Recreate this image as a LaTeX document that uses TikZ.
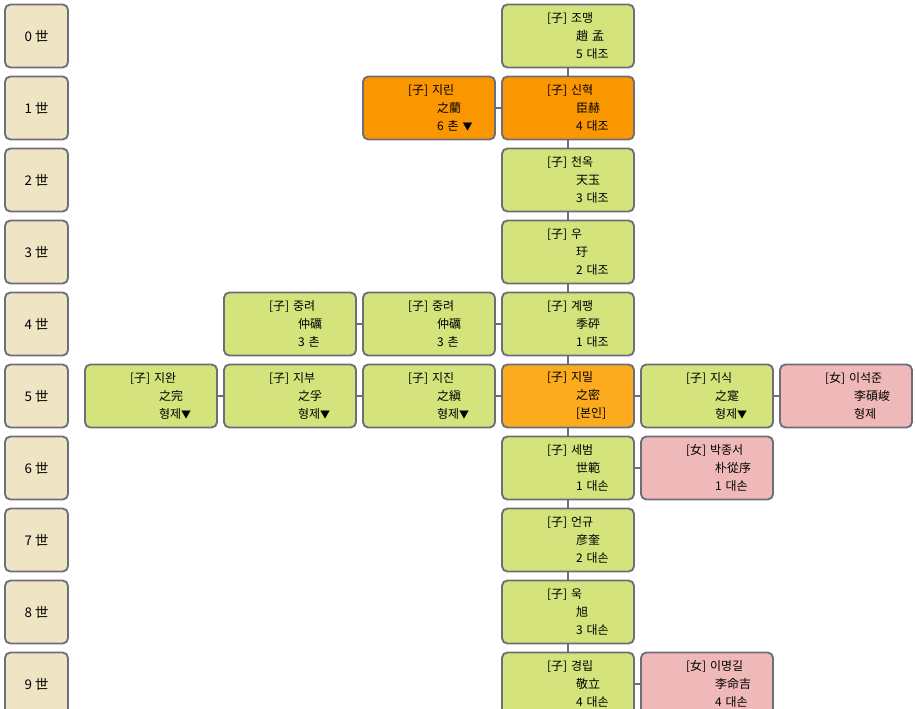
\documentclass[tikz,border=0pt]{standalone}
\usepackage{fontspec}
\setmainfont{Noto Sans CJK KR}
\definecolor{leaf}{HTML}{D4E37B}
\definecolor{rust}{HTML}{FA9600}
\definecolor{self}{HTML}{FCAA1E}
\definecolor{rose}{HTML}{F0B9B9}
\definecolor{sand}{HTML}{EFE4C3}
\definecolor{frame}{HTML}{6E6E78}
\newcommand{\ptext}[3]{\hspace*{33.75pt}#1\\\hspace*{55.5pt}#2\\\hspace*{55.5pt}#3}
\newcommand{\more}{{\fontsize{7.5}{7.5}\selectfont ▼}}

\begin{document}
\begin{tikzpicture}[x=0.75pt, y=-0.75pt,
    box/.style={draw=frame, line width=1.4pt, rounded corners=4pt,
        minimum height=47.25pt, inner sep=0pt,
        font=\fontsize{9}{13.5}\selectfont},
    person/.style={box, text width=99pt, align=left},
    gen/.style={box, fill=sand, minimum width=47.25pt, align=center,
        font=\fontsize{10}{12}\selectfont},
    wire/.style={draw=frame, line width=1.4pt}]
                % Frame and generation column:
                \clip (0, 0) rectangle (916, 709);
                \fill[white] (0, 0) rectangle (916, 709);
                \foreach \g in {0,...,9}
                    \node[gen](G\g) at (36.5, 36+72*\g){\g~世};
                % Main line:
                \node[person, fill=leaf](jomaeng) at (568, 36){\ptext{[子] 조맹}{趙 孟}{5 대조}};
                \node[person, fill=rust](sinhyeok) at (568, 108){\ptext{[子] 신혁}{臣赫}{4 대조}};
                \node[person, fill=leaf](cheonok) at (568, 180){\ptext{[子] 천옥}{天玉}{3 대조}};
                \node[person, fill=leaf](u) at (568, 252){\ptext{[子] 우}{玗}{2 대조}};
                \node[person, fill=leaf](gyepaeng) at (568, 324){\ptext{[子] 계팽}{季砰}{1 대조}};
                \node[person, fill=self](jimil) at (568, 396){\ptext{[子] 지밀}{之密}{[본인]}};
                \node[person, fill=leaf](sebeom) at (568, 468){\ptext{[子] 세범}{世範}{1 대손}};
                \node[person, fill=leaf](eongyu) at (568, 540){\ptext{[子] 언규}{彦奎}{2 대손}};
                \node[person, fill=leaf](uk) at (568, 612){\ptext{[子] 욱}{旭}{3 대손}};
                \node[person, fill=leaf](gyeongrip) at (568, 684){\ptext{[子] 경립}{敬立}{4 대손}};
                % Side boxes:
                \node[person, fill=rust](jirin) at (429, 108){\ptext{[子] 지린}{之藺}{6 촌 \more}};
                \node[person, fill=leaf](jungryeoA) at (290, 324){\ptext{[子] 중려}{仲礪}{3 촌}};
                \node[person, fill=leaf](jungryeoB) at (429, 324){\ptext{[子] 중려}{仲礪}{3 촌}};
                \node[person, fill=leaf](jiwan) at (151, 396){\ptext{[子] 지완}{之完}{형제\more}};
                \node[person, fill=leaf](jibu) at (290, 396){\ptext{[子] 지부}{之孚}{형제\more}};
                \node[person, fill=leaf](jijin) at (429, 396){\ptext{[子] 지진}{之縝}{형제\more}};
                \node[person, fill=leaf](jisik) at (707, 396){\ptext{[子] 지식}{之寔}{형제\more}};
                \node[person, fill=rose](iseokjun) at (846, 396){\ptext{[女] 이석준}{李碩峻}{형제}};
                \node[person, fill=rose](bakjongseo) at (707, 468){\ptext{[女] 박종서}{朴從序}{1 대손}};
                \node[person, fill=rose](imyeonggil) at (707, 684){\ptext{[女] 이명길}{李命吉}{4 대손}};
                % Wires:
                \draw[wire] (jomaeng) -- (sinhyeok) -- (cheonok) -- (u) -- (gyepaeng) -- (jimil)
                    -- (sebeom) -- (eongyu) -- (uk) -- (gyeongrip);
                \draw[wire] (jirin) -- (sinhyeok);
                \draw[wire] (jungryeoA) -- (jungryeoB) -- (gyepaeng);
                \draw[wire] (jiwan) -- (jibu) -- (jijin) -- (jimil) -- (jisik) -- (iseokjun);
                \draw[wire] (sebeom) -- (bakjongseo);
                \draw[wire] (gyeongrip) -- (imyeonggil);
            \end{tikzpicture}
\end{document}
